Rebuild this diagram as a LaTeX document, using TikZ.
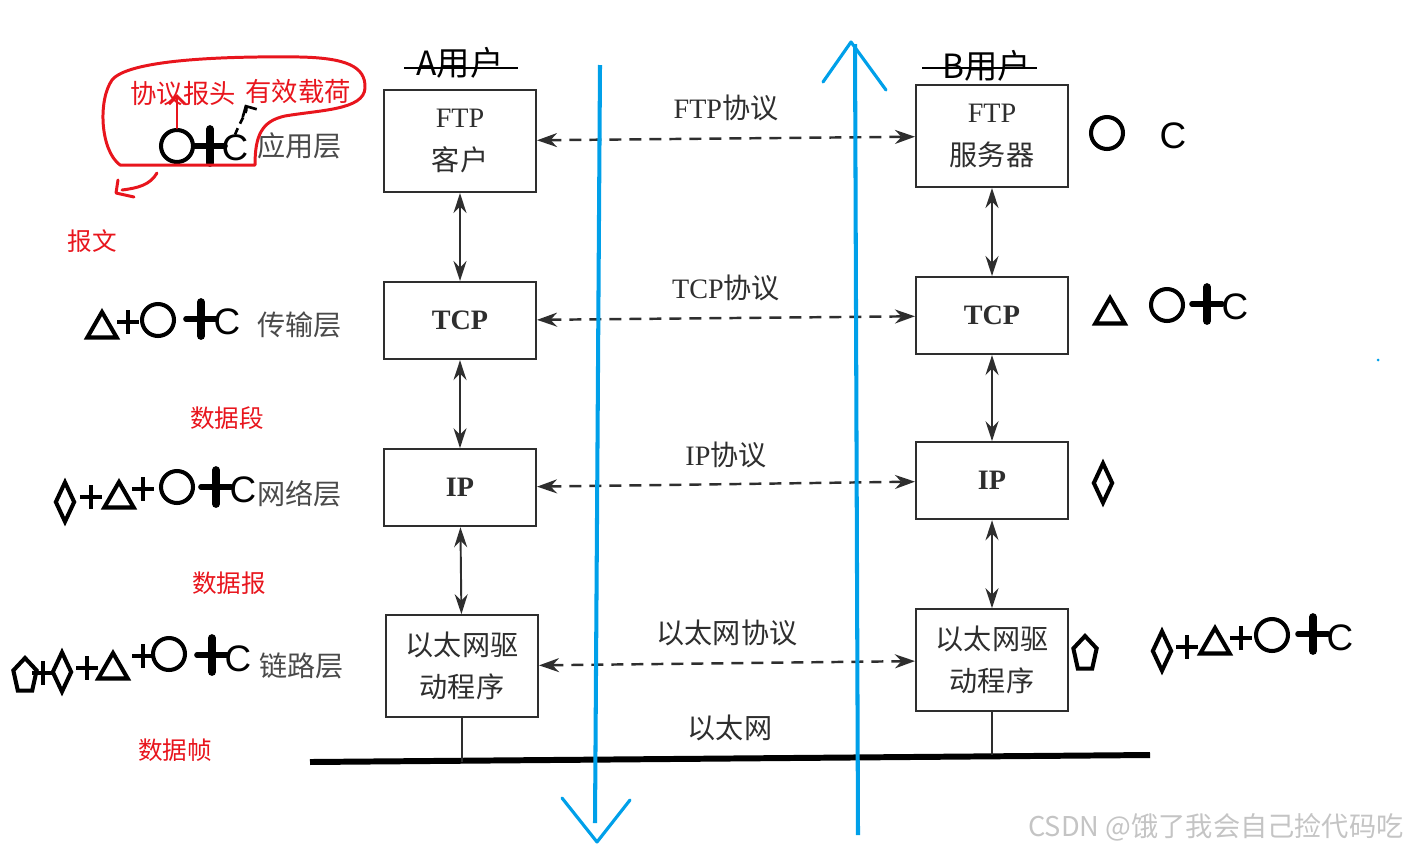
\documentclass[tikz,border=0pt]{standalone}
\usepackage{fontspec}
\setmainfont{Liberation Serif}
\newfontfamily\cjk{Noto Sans CJK SC}
\newfontfamily\latsans{Liberation Sans}
\usetikzlibrary{arrows.meta,positioning,shapes.geometric}
\definecolor{inkgray}{HTML}{2E2E2E}
\definecolor{labelgray}{HTML}{4A4A4A}
\definecolor{penblue}{HTML}{00A0E9}
\definecolor{penred}{HTML}{E8151D}
\definecolor{markgray}{HTML}{C4C4C4}
\tikzset{
  layerbox/.style={
    rectangle, draw=inkgray, line width=1.2pt, fill=white,
    align=center, text=inkgray, minimum width=3.04cm,
    font=\fontsize{16}{24}\selectfont
  },
  bigbox/.style={layerbox, minimum height=2.04cm},
  smallbox/.style={layerbox, minimum height=1.54cm},
  cjkbox/.style={font=\cjk\fontsize{16}{24}\selectfont},
  peerarrow/.style={{Stealth[length=0.4cm,width=0.28cm]}-{Stealth[length=0.4cm,width=0.28cm]},
    dash pattern=on 0.24cm off 0.16cm, line width=1.4pt, draw=inkgray},
  stackarrow/.style={{Stealth[length=0.4cm,width=0.26cm]}-{Stealth[length=0.4cm,width=0.26cm]},
    line width=1.1pt, draw=inkgray},
  busline/.style={line width=3.4pt, draw=black},
  tapline/.style={line width=0.9pt, draw=inkgray},
  layertxt/.style={text=labelgray, font=\cjk\fontsize{16}{20}\selectfont, inner sep=0pt},
  protolbl/.style={text=inkgray, font=\fontsize{16}{20}\selectfont, inner sep=0pt},
  userlbl/.style={text=black, font=\cjk\fontsize{19}{22}\selectfont, inner sep=0pt},
  strikeline/.style={line width=1.1pt, draw=black},
  redlbl/.style={text=penred, font=\cjk\fontsize{14}{18}\selectfont, inner sep=0pt},
  hdrlbl/.style={text=penred, font=\cjk\fontsize{15}{18}\selectfont, inner sep=0pt},
  redpen/.style={draw=penred, line width=1.7pt, line cap=round, line join=round},
  dashpen/.style={draw=black, line width=1.5pt, dash pattern=on 0.14cm off 0.1cm},
  bluepen/.style={draw=penblue, line width=2.3pt},
  bluehand/.style={draw=penblue, line width=1.8pt, line cap=round, line join=round},
  wmark/.style={text=markgray, font=\cjk\fontsize{15.5}{18}\selectfont, inner sep=0pt},
  sym/.style={draw=black, line width=2.3pt, inner sep=0pt},
  ringsym/.style={sym, circle, minimum size=0.64cm},
  trisym/.style={sym, regular polygon, regular polygon sides=3, minimum size=0.68cm},
  diasym/.style={sym, diamond, minimum width=0.4cm, minimum height=0.82cm},
  pentsym/.style={sym, regular polygon, regular polygon sides=5, minimum size=0.72cm, xscale=0.68},
  csym/.style={font=\latsans\fontsize{21}{21}\selectfont, inner sep=0pt},
  thinplus/.pic={\draw[line width=2.2pt] (-11,0) -- (11,0) (0,-12) -- (0,12);},
  boldplus/.pic={
    \draw[line width=4.4pt, line cap=round] (0,-17) -- (0,17);
    \draw[line width=3.2pt, line cap=round] (-15,0) -- (15,0);
  },
}
\begin{document}
\begin{tikzpicture}[x=0.02cm, y=-0.02cm]
  \useasboundingbox (0,0) rectangle (1409,853);

  % host A
  \node[bigbox] (ftpA) at (460,141) {FTP\\{\cjk 客户}};
  \node[smallbox, below=1.76cm of ftpA] (tcpA) {\bfseries TCP};
  \node[smallbox, below=1.76cm of tcpA] (ipA) {\bfseries IP};
  \node[bigbox, cjkbox, below=1.74cm of ipA, xshift=0.04cm] (ethA) {以太网驱\\动程序};

  % host B
  \node[bigbox] (ftpB) at (992,136) {FTP\\{\cjk 服务器}};
  \node[smallbox, below=1.76cm of ftpB] (tcpB) {\bfseries TCP};
  \node[smallbox, below=1.72cm of tcpB] (ipB) {\bfseries IP};
  \node[bigbox, cjkbox, below=1.76cm of ipB] (ethB) {以太网驱\\动程序};

  \node[userlbl] (usrA) at (460,63) {A用户};
  \node[userlbl] (usrB) at (987,66) {B用户};
  \draw[strikeline] ([shift={(-0.24cm,-0.1cm)}]usrA.west) -- ([shift={(0.28cm,-0.1cm)}]usrA.east);
  \draw[strikeline] ([shift={(-0.4cm,-0.04cm)}]usrB.west) -- ([shift={(0.1cm,-0.04cm)}]usrB.east);

  % layer names
  \node[layertxt, left=0.82cm of ftpA, yshift=-0.1cm] (appL) {应用层};
  \node[layertxt, left=0.82cm of tcpA, yshift=-0.08cm] (trnL) {传输层};
  \node[layertxt, left=0.82cm of ipA, yshift=-0.12cm] (netL) {网络层};
  \node[layertxt, left=0.82cm of ethA] (lnkL) {链路层};

  \draw[stackarrow] (ftpA) -- (tcpA);
  \draw[stackarrow] (tcpA) -- (ipA);
  \draw[stackarrow] (ipA) -- (ethA);
  \draw[stackarrow] (ftpB) -- (tcpB);
  \draw[stackarrow] (tcpB) -- (ipB);
  \draw[stackarrow] (ipB) -- (ethB);

  \draw[peerarrow] (ftpA) -- node[protolbl, above=0.32cm] (ftpP) {FTP{\cjk 协议}} (ftpB);
  \draw[peerarrow] (tcpA) -- node[protolbl, above=0.32cm] (tcpP) {TCP{\cjk 协议}} (tcpB);
  \draw[peerarrow] (ipA) -- node[protolbl, above=0.3cm] (ipP) {IP{\cjk 协议}} (ipB);
  \draw[peerarrow] (ethA) -- node[protolbl, above=0.32cm] (ethP) {\cjk 以太网协议} (ethB);

  \coordinate (busL) at (310,762);
  \coordinate (busR) at (1150,755);
  \draw[busline] (busL) -- node[protolbl, above=0.3cm] (lan) {\cjk 以太网} (busR);
  \draw[tapline] (ethA) -- (ethA |- busL);
  \draw[tapline] (ethB) -- (ethB |- busR);

  % data flow
  \coordinate (dnTop) at (600,65);
  \coordinate (dnEnd) at (595,823);
  \draw[bluepen] (dnTop) -- (dnEnd);
  \draw[bluehand] (562,798) -- (597,842) -- (630,800);
  \coordinate (upBot) at (858,835);
  \coordinate (upEnd) at (855,44);
  \draw[bluepen] (upBot) -- (upEnd);
  \draw[bluehand] (823,82) -- (851,42) -- (886,90);
  \fill[penblue] (1378,360) circle[radius=0.03cm];

  % sender side units
  \node[ringsym] (r1) at (177,146) {};
  \pic at (210,146) {boldplus};
  \node[csym] (c1) at (235,148) {C};

  \node[trisym] (t2) at (102,329) {};
  \pic at (128,322) {thinplus};
  \node[ringsym] (r2) at (158,320) {};
  \pic at (201,319) {boldplus};
  \node[csym] (c2) at (227,322) {C};

  \node[diasym] (d3) at (65,502) {};
  \pic at (91,497) {thinplus};
  \node[trisym] (t3) at (119,499) {};
  \pic at (143,489) {thinplus};
  \node[ringsym] (r3) at (177,487) {};
  \pic at (216,487) {boldplus};
  \node[csym] (c3) at (243,490) {C};

  \node[pentsym] (p4) at (25,676) {};
  \pic at (43,673) {thinplus};
  \node[diasym] (d4) at (62,672) {};
  \pic at (87,668) {thinplus};
  \node[trisym] (t4) at (113,670) {};
  \pic at (143,656) {thinplus};
  \node[ringsym] (r4) at (169,654) {};
  \pic at (212,655) {boldplus};
  \node[csym] (c4) at (238,659) {C};

  % receiver side units
  \node[ringsym] (r5) at (1107,133) {};
  \node[csym] (c5) at (1173,136) {C};

  \node[trisym] (t6) at (1110,315) {};
  \node[ringsym] (r6) at (1167,305) {};
  \pic at (1207,304) {boldplus};
  \node[csym] (c6) at (1235,307) {C};

  \node[diasym] (d7) at (1103,483) {};

  \node[pentsym] (p8) at (1085,654) {};
  \node[diasym] (d8) at (1162,651) {};
  \pic at (1187,647) {thinplus};
  \node[trisym] (t8) at (1215,645) {};
  \pic at (1241,638) {thinplus};
  \node[ringsym] (r8) at (1272,635) {};
  \pic at (1313,634) {boldplus};
  \node[csym] (c8) at (1340,638) {C};

  % red notes
  \node[hdrlbl] (hdr) at (183,94) {协议报头};
  \node[hdrlbl] (pay) at (298,92) {有效载荷};
  \draw[redpen, -{Straight Barb[length=1.6mm]}] (r1) -- (r1 |- hdr);
  \draw[dashpen, -{Straight Barb[length=1.6mm]}] (c1.north) .. controls (242,118) and (248,110) .. (pay.south west);
  \draw[redpen] (255,165) -- (120,165) .. controls (100,150) and (98,100) .. (112,80)
    .. controls (128,60) and (220,56) .. (300,57) .. controls (345,58) and (366,66) .. (365,88)
    .. controls (364,110) and (320,110) .. (285,116) .. controls (262,121) and (255,135) .. (255,165);
  \draw[redpen] (157,173) .. controls (150,185) and (138,188) .. (122,190);
  \draw[redpen] (118,180) -- (116,193) -- (134,197);

  \node[redlbl] (msg) at (92,241) {报文};
  \node[redlbl] (seg) at (227,418) {数据段};
  \node[redlbl] (dgram) at (229,583) {数据报};
  \node[redlbl] (frame) at (175,750) {数据帧};

  \node[wmark, anchor=east] (mark) at (1404,827) {CSDN @饿了我会自己捡代码吃};
\end{tikzpicture}
\end{document}
